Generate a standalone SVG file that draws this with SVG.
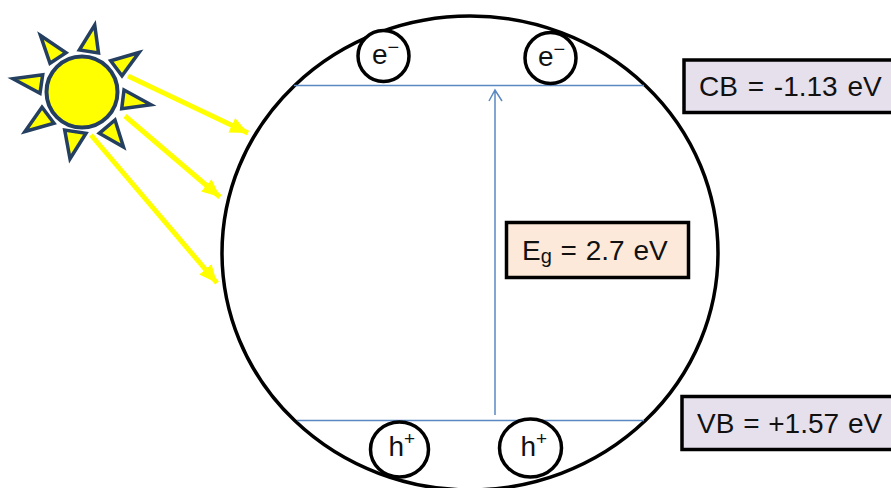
<svg xmlns="http://www.w3.org/2000/svg" width="891" height="488" viewBox="0 0 891 488">
<style>
.ray{fill:#ffff00;stroke:#243f60;stroke-width:3.5;stroke-linejoin:miter}
.beam{stroke:#ffff00;stroke-width:5;fill:none;marker-end:url(#yh)}
.band{stroke:#5b88c2;stroke-width:1.5;fill:none}
.c{fill:#fff;stroke:#000;stroke-width:3.5}
.box{stroke:#000;stroke-width:3.5}
text{font-family:"Liberation Sans",Arial,sans-serif;fill:#111;font-size:28px}
</style>
<defs>
<marker id="yh" markerUnits="userSpaceOnUse" markerWidth="20" markerHeight="18" refX="18" refY="8" orient="auto"><path d="M0 0L18 8L0 16Z" fill="#ffff00"/></marker>
</defs>
<rect width="891" height="488" fill="#fff"/>
<g id="sphere"><ellipse cx="470" cy="253" rx="248" ry="237" fill="#fff" stroke="#000" stroke-width="3.5"/></g>
<g id="sun">
<circle cx="82" cy="92" r="35.5" fill="#ffff00" stroke="#243f60" stroke-width="4"/>
<path class="ray" d="M94.7 25L98.5 53L79.3 50Z"/>
<path class="ray" d="M139 52.5L110.7 60.7L122 75.7Z"/>
<path class="ray" d="M151 104.7L124 90L121.7 108.7Z"/>
<path class="ray" d="M123.5 147L115 120L99.3 133.3Z"/>
<path class="ray" d="M70 158.7L86 133.3L64.7 130Z"/>
<path class="ray" d="M25 131.5L54 123.3L42 107.3Z"/>
<path class="ray" d="M13 78.7L42.7 74.7L40 93.3Z"/>
<path class="ray" d="M40.5 35.5L66 52.7L50 63.3Z"/>
</g>
<g id="connectors">
<path class="beam" d="M128 76L248 133"/>
<path class="beam" d="M125 116L220 197"/>
<path class="beam" d="M91 135L217 283"/>
<path class="band" d="M294 85.5H644"/>
<path class="band" d="M297 420.5H644"/>
<path class="band" d="M495 415V90M489 101L495 90L502 101"/>
</g>
<g id="e1"><circle class="c" cx="383.5" cy="56" r="25.5"/><text x="372" y="64">e<tspan dy="-10" font-size="20">−</tspan></text></g>
<g id="e2"><circle class="c" cx="550.5" cy="58" r="25.5"/><text x="538" y="66">e<tspan dy="-10" font-size="20">−</tspan></text></g>
<g id="h1"><ellipse class="c" cx="399.5" cy="449.5" rx="29" ry="27.5"/><text x="388.5" y="456">h<tspan dy="-11" font-size="19">+</tspan></text></g>
<g id="h2"><ellipse class="c" cx="530.5" cy="448" rx="31" ry="29"/><text x="520.5" y="456">h<tspan dy="-11" font-size="19">+</tspan></text></g>
<g id="eg"><rect class="box" x="506.5" y="222.5" width="182" height="55" fill="#fde9d9"/><text x="522" y="260" word-spacing="1">E<tspan dy="3" font-size="20">g</tspan><tspan dy="-3"> = 2.7 eV</tspan></text></g>
<g id="cb"><rect class="box" x="684" y="60" width="215" height="52.5" fill="#e6e0ec"/><text x="699" y="96" word-spacing="2">CB = -1.13 eV</text></g>
<g id="vb"><rect class="box" x="682" y="396.5" width="215" height="53" fill="#e6e0ec"/><text x="697" y="433" word-spacing="1">VB = +1.57 eV</text></g>
</svg>
